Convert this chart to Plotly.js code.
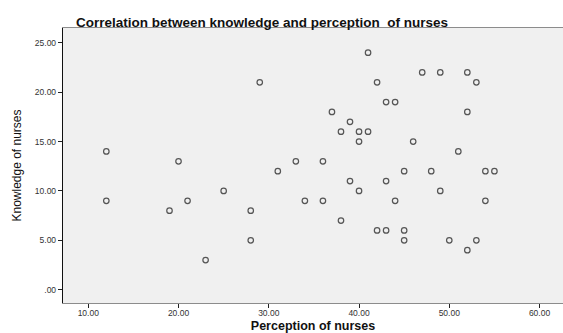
<!DOCTYPE html>
<html>
<head>
<meta charset="utf-8">
<script src="https://cdn.plot.ly/plotly-3.0.1.min.js"></script>
<style>html,body{margin:0;padding:0;background:#fff;}#chart{width:563px;height:333px;}</style>
</head>
<body>
<div id="chart"></div>
<script>
// Perception of nurses (x) and Knowledge of nurses (y)
const perception = [12, 12, 19, 20, 21, 23, 25, 28, 28, 29, 31, 33, 34, 36, 36, 37, 38, 38, 39, 39,
                    40, 40, 40, 41, 41, 42, 42, 43, 43, 43, 44, 44, 45, 45, 45, 46, 47, 48, 49, 49,
                    50, 51, 52, 52, 52, 53, 53, 54, 54, 55];
const knowledge  = [14, 9, 8, 13, 9, 3, 10, 8, 5, 21, 12, 13, 9, 13, 9, 18, 16, 7, 17, 11,
                    16, 15, 10, 24, 16, 21, 6, 19, 11, 6, 19, 9, 12, 6, 5, 15, 22, 12, 22, 10,
                    5, 14, 22, 18, 4, 21, 5, 12, 9, 12];
const xTickVals = [10, 20, 30, 40, 50, 60];
const xTickText = ['10.00', '20.00', '30.00', '40.00', '50.00', '60.00'];
const yTickVals = [0, 5, 10, 15, 20, 25];
const yTickText = ['.00', '5.00', '10.00', '15.00', '20.00', '25.00'];

const trace = {
  x: perception, y: knowledge, type: 'scatter', mode: 'markers',
  marker: {symbol: 'circle-open', size: 5.5, color: '#555', line: {width: 1.2, color: '#555'}},
  hoverinfo: 'none'
};
const layout = {
  width: 563, height: 333,
  margin: {l: 63, r: 0, t: 28, b: 30, pad: 0},
  paper_bgcolor: '#ffffff', plot_bgcolor: '#f0f0f0',
  showlegend: false,
  title: {text: '<b>Correlation between knowledge and perception&nbsp; of nurses</b>',
          font: {family: 'Liberation Sans, Arial, sans-serif', size: 13.5, color: '#111'},
          x: 262/563, xanchor: 'center', y: 1 - 22/333, yanchor: 'middle'},
  xaxis: {range: [7.2, 62.6], tickvals: xTickVals, ticktext: xTickText,
          showgrid: false, zeroline: false, showline: true, linecolor: '#8c8c8c', linewidth: 1.2,
          mirror: true, ticks: 'outside', ticklen: 4, tickcolor: '#222', tickwidth: 1,
          ticklabelstandoff: -2,
          tickfont: {family: 'Liberation Sans, Arial, sans-serif', size: 8.5, color: '#333'},
          title: {text: '<b>Perception of nurses</b>', standoff: 4,
                  font: {family: 'Liberation Sans, Arial, sans-serif', size: 12.5, color: '#111'}}},
  yaxis: {range: [-1.35, 26.5], tickvals: yTickVals, ticktext: yTickText,
          showgrid: false, zeroline: false, showline: true, linecolor: '#111', linewidth: 1.2,
          ticks: 'outside', ticklen: 4, tickcolor: '#222', tickwidth: 1,
          tickfont: {family: 'Liberation Sans, Arial, sans-serif', size: 8.5, color: '#333'},
          title: {text: 'Knowledge of nurses', standoff: 10,
                  font: {family: 'Liberation Sans Narrow, Arial Narrow, Liberation Sans, sans-serif', size: 12, color: '#111'}}}
};
Plotly.newPlot('chart', [trace], layout, {staticPlot: true, displayModeBar: false});
</script>
</body>
</html>
